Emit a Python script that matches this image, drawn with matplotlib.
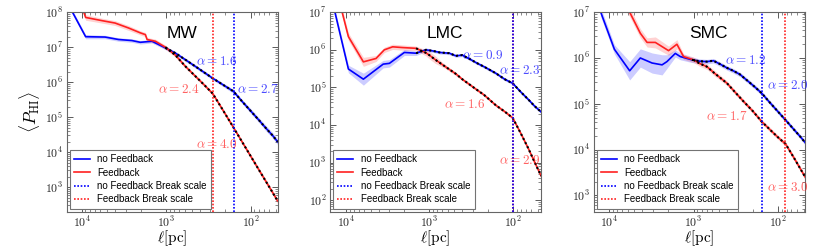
import numpy as np
import matplotlib
matplotlib.use("Agg")
import matplotlib.pyplot as plt
import matplotlib.ticker as ticker

# --- data (scales in pc, power as log10) ---

# MW
mw_ell_nofb = [13150, 8960, 5280, 3660, 2540, 2020, 1470, 1020, 775, 590, 450,
               350, 280, 220, 160, 125, 100, 80, 65, 55, 48]
mw_logp_nofb = [8.05, 7.30, 7.29, 7.22, 7.19, 7.14, 7.17, 6.98, 6.83, 6.64, 6.45,
                6.27, 6.11, 5.95, 5.74, 5.44, 5.18, 4.92, 4.67, 4.48, 4.30]
mw_err_nofb = [0.06, 0.06, 0.05, 0.05, 0.05, 0.05, 0.05, 0.05, 0.05, 0.05, 0.05,
               0.05, 0.05, 0.05, 0.06, 0.06, 0.07, 0.07, 0.08, 0.08, 0.08]
mw_ell_fb = [13150, 8960, 5780, 4020, 2790, 2020, 1760, 1680, 1340, 1020, 775, 590,
             450, 350, 280, 220, 160, 125, 100, 80, 65, 55, 48]
mw_logp_fb = [9.0, 7.85, 7.76, 7.69, 7.55, 7.41, 7.36, 7.22, 7.17, 7.0, 6.77, 6.45,
              6.17, 5.91, 5.67, 5.26, 4.71, 4.28, 3.89, 3.50, 3.14, 2.85, 2.61]
mw_err_fb = [0.08, 0.08, 0.07, 0.07, 0.07, 0.06, 0.06, 0.06, 0.06, 0.06, 0.06, 0.05,
             0.05, 0.05, 0.05, 0.05, 0.05, 0.05, 0.06, 0.06, 0.06, 0.07, 0.07]

# LMC
lmc_ell_nofb = [13700, 9330, 6170, 3570, 3010, 1990, 1440, 1100, 900, 750, 575, 480,
                403, 330, 270, 220, 160, 125, 100, 80, 65, 55, 45.7]
lmc_logp_nofb = [7.05, 5.49, 5.22, 5.62, 5.64, 5.93, 5.91, 6.0, 5.97, 5.93, 5.91, 5.84,
                 5.86, 5.76, 5.65, 5.55, 5.38, 5.22, 5.11, 4.88, 4.68, 4.51, 4.35]
lmc_err_nofb = [0.08, 0.10, 0.16, 0.10, 0.10, 0.08, 0.06, 0.05, 0.04, 0.04, 0.04, 0.04,
                0.04, 0.04, 0.04, 0.04, 0.04, 0.04, 0.04, 0.04, 0.04, 0.04, 0.04]
lmc_ell_fb = [13700, 9330, 6170, 4350, 3460, 2750, 2090, 1440, 1100, 1000, 850, 690,
              575, 480, 403, 330, 270, 220, 160, 125, 100, 80, 65, 55, 45.7]
lmc_logp_fb = [7.8, 6.35, 5.68, 5.77, 6.0, 6.08, 6.06, 6.04, 5.92, 5.86, 5.74, 5.6,
               5.48, 5.36, 5.22, 5.08, 4.94, 4.80, 4.53, 4.36, 4.19, 3.78, 3.38, 3.03, 2.65]
lmc_err_fb = [0.10, 0.10, 0.12, 0.08, 0.07, 0.07, 0.07, 0.06, 0.08, 0.10, 0.10, 0.06,
              0.05, 0.05, 0.04, 0.04, 0.04, 0.04, 0.04, 0.04, 0.04, 0.04, 0.04, 0.04, 0.04]

# SMC
smc_ell_nofb = [12530, 8570, 5660, 4240, 3080, 2350, 2060, 1640, 1430, 1045, 850, 695,
                582, 480, 400, 340, 283, 230, 190, 157, 125, 100, 80, 65, 55, 47.6]
smc_logp_nofb = [7.02, 6.19, 5.72, 6.0, 5.89, 5.85, 5.92, 6.1, 6.03, 5.96, 5.93, 5.92,
                 5.94, 5.86, 5.78, 5.72, 5.64, 5.5, 5.37, 5.23, 5.02, 4.82, 4.62, 4.43,
                 4.28, 4.14]
smc_err_nofb = [0.10, 0.10, 0.20, 0.20, 0.22, 0.22, 0.15, 0.08, 0.07, 0.06, 0.05, 0.05,
                0.05, 0.05, 0.05, 0.05, 0.05, 0.05, 0.05, 0.05, 0.05, 0.05, 0.05, 0.05,
                0.05, 0.05]
smc_ell_fb = [12530, 8570, 5660, 4240, 3530, 2820, 1970, 1570, 1310, 1000, 850, 695,
              560, 404, 330, 260, 200, 157, 120, 100, 82, 65, 55, 47.6]
smc_logp_fb = [8.3, 7.55, 7.0, 6.54, 6.34, 6.34, 6.16, 6.30, 6.03, 5.96, 5.88, 5.81,
               5.66, 5.45, 5.27, 5.06, 4.84, 4.61, 4.40, 4.26, 4.12, 3.81, 3.58, 3.38]
smc_err_fb = [0.15, 0.12, 0.10, 0.10, 0.10, 0.12, 0.10, 0.10, 0.06, 0.06, 0.06, 0.06,
              0.06, 0.05, 0.05, 0.05, 0.05, 0.05, 0.05, 0.05, 0.05, 0.05, 0.05, 0.05]

panel_names = ["MW", "LMC", "SMC"]
fit_start = [1020, 1440, 1045]          # fits run from here to the smallest scale
break_nofb = [158, 100, 157]
break_fb = [278, 100, 83]
alpha_nofb = [("1.6", "2.7"), ("0.9", "2.3"), ("1.2", "2.0")]
alpha_fb = [("2.4", "4.0"), ("1.6", "2.9"), ("1.7", "3.0")]

BLUE = "#0000ff"
RED = "#ff2020"

plt.rcParams["mathtext.fontset"] = "cm"
plt.rcParams["font.family"] = ["Liberation Sans", "DejaVu Sans"]


def pow10_label(v, _):
    return r"$\mathrm{10^{%d}}$" % int(round(np.log10(v)))


def draw_panel(ax, name, nofb, fb, fstart, bnofb, bfb, anofb, afb, xlim, ylim, txtpos):
    for (ell, logp, err), color, lab in ((nofb, BLUE, "no Feedback"),
                                        (fb, RED, "Feedback")):
        ell = np.asarray(ell, dtype=float)
        logp = np.asarray(logp, dtype=float)
        err = np.asarray(err, dtype=float)
        ax.fill_between(ell, 10 ** (logp - err), 10 ** (logp + err),
                        color=color, alpha=0.2, lw=0, zorder=1)
        ax.plot(ell, 10 ** logp, color=color, lw=1.2, label=lab, zorder=2)
        # broken power-law fit drawn over the small-scale part
        m = ell <= fstart
        ax.plot(ell[m], 10 ** logp[m], color="black", lw=1.5,
                linestyle=(0, (1, 1.2)), zorder=3)

    ax.axvline(bfb, color=RED, lw=1.2, linestyle=(0, (1, 1)), zorder=4)
    ax.axvline(bnofb, color=BLUE, lw=1.2, linestyle=(0, (1, 1)), zorder=4)

    # legend handles in the original order
    h = [plt.Line2D([], [], color=BLUE, lw=1.2),
         plt.Line2D([], [], color=RED, lw=1.2),
         plt.Line2D([], [], color=BLUE, lw=1.2, linestyle=(0, (1, 1))),
         plt.Line2D([], [], color=RED, lw=1.2, linestyle=(0, (1, 1)))]
    leg = ax.legend(h, ["no Feedback", "Feedback", "no Feedback Break scale",
                        "Feedback Break scale"],
                    loc="lower left", fontsize=7, handlelength=1.6,
                    labelspacing=0.35, borderpad=0.45, borderaxespad=0.3,
                    fancybox=False, framealpha=1.0)
    leg.get_frame().set_edgecolor("0.45")
    leg.get_frame().set_linewidth(0.8)
    leg.set_zorder(6)

    for (txt, (tx, ty), color) in ((anofb[0], txtpos[0], BLUE),
                                   (anofb[1], txtpos[1], BLUE),
                                   (afb[0], txtpos[2], RED),
                                   (afb[1], txtpos[3], RED)):
        ax.text(tx, ty, r"$\alpha = %s$" % txt, color=color, alpha=0.7,
                fontsize=9.5, ha="left", va="center", transform=ax.transAxes,
                zorder=5)

    ax.text(0.545, 0.895, name, fontsize=12.5, ha="center", va="center",
            transform=ax.transAxes)

    ax.set_xscale("log")
    ax.set_yscale("log")
    ax.set_xlim(*xlim)
    ax.set_ylim(*ylim)
    ax.xaxis.set_major_formatter(ticker.FuncFormatter(pow10_label))
    ax.yaxis.set_major_formatter(ticker.FuncFormatter(pow10_label))
    ax.xaxis.set_minor_formatter(ticker.NullFormatter())
    ax.yaxis.set_minor_formatter(ticker.NullFormatter())
    ax.tick_params(which="both", direction="in", top=True, right=True,
                   colors="0.35", labelcolor="0.15", labelsize=8.5, pad=2.5)
    ax.tick_params(which="major", length=4, width=0.7)
    ax.tick_params(which="minor", length=2, width=0.5)
    for s in ax.spines.values():
        s.set_color("0.4")
        s.set_linewidth(0.8)
    ax.set_xlabel(r"$\ell[\mathrm{pc}]$", fontsize=11, labelpad=-1)


fig = plt.figure(figsize=(8.3, 2.49), dpi=100)
lefts = [0.0804, 0.3976, 0.7154]
axes = [fig.add_axes([l, 0.150, 0.254, 0.801]) for l in lefts]

xlims = [(1.5e4, 48), (1.55e4, 46), (1.5e4, 49)]
ylims = [(200, 1e8), (50, 1e7), (440, 1e7)]
txtpos = [
    [(0.615, 0.755), (0.81, 0.614), (0.433, 0.614), (0.614, 0.339)],
    [(0.627, 0.785), (0.80, 0.71), (0.539, 0.539), (0.80, 0.255)],
    [(0.621, 0.76), (0.823, 0.63), (0.534, 0.476), (0.823, 0.122)],
]
series = [
    ((mw_ell_nofb, mw_logp_nofb, mw_err_nofb), (mw_ell_fb, mw_logp_fb, mw_err_fb)),
    ((lmc_ell_nofb, lmc_logp_nofb, lmc_err_nofb), (lmc_ell_fb, lmc_logp_fb, lmc_err_fb)),
    ((smc_ell_nofb, smc_logp_nofb, smc_err_nofb), (smc_ell_fb, smc_logp_fb, smc_err_fb)),
]

for i, ax in enumerate(axes):
    draw_panel(ax, panel_names[i], series[i][0], series[i][1], fit_start[i],
               break_nofb[i], break_fb[i], alpha_nofb[i], alpha_fb[i],
               xlims[i], ylims[i], txtpos[i])

axes[0].set_ylabel(r"$\langle P_{\mathrm{HI}}\rangle$", fontsize=12.5, labelpad=2)

fig.savefig("out.png", dpi=100)
